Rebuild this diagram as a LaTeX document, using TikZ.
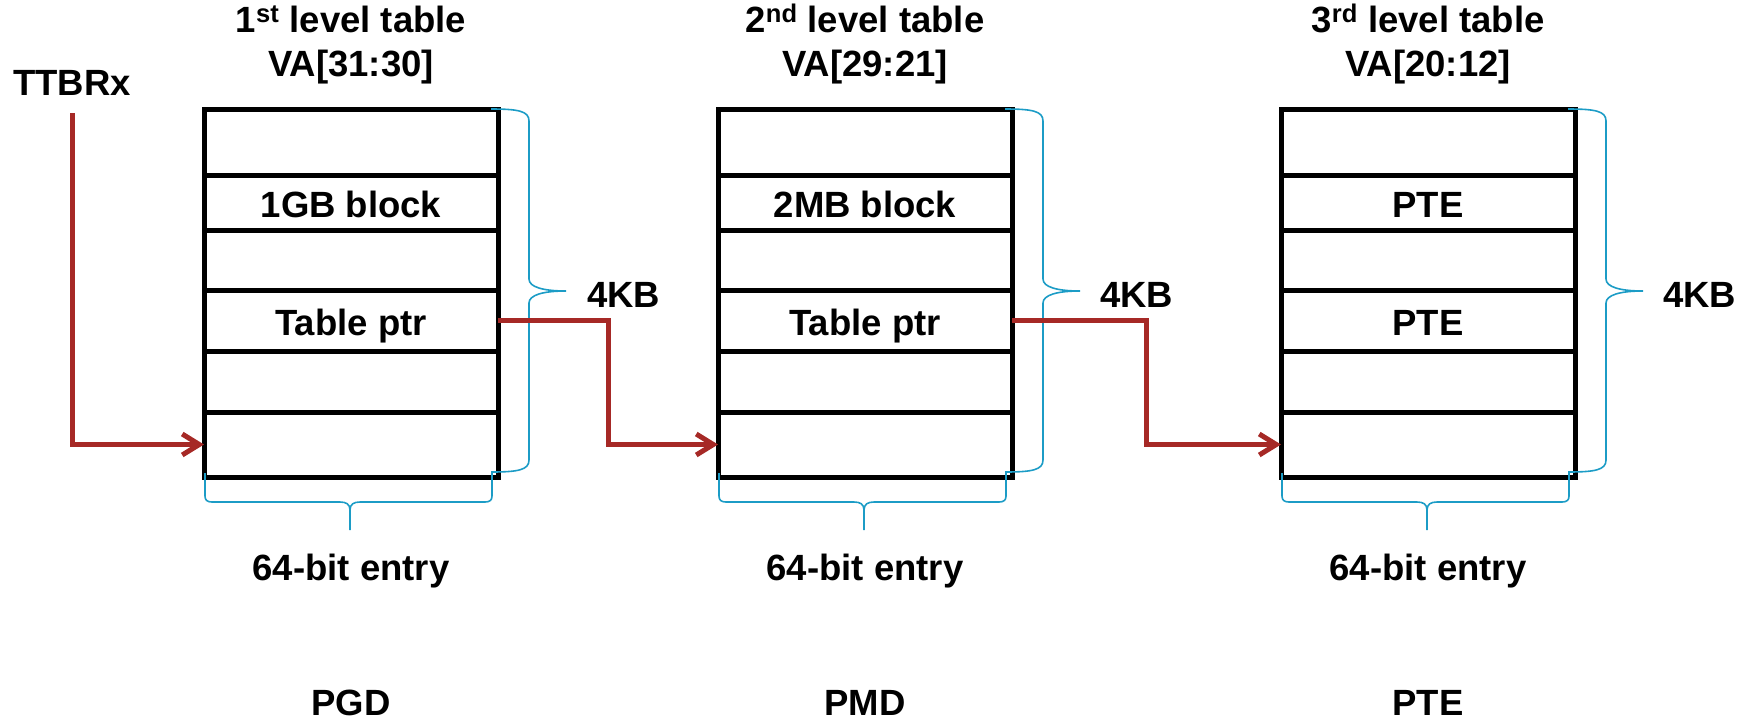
\documentclass[tikz,border=0pt]{standalone}
\usepackage{fontspec}
\setmainfont{Liberation Sans}
\usetikzlibrary{arrows.meta,calc}

\definecolor{ptrred}{RGB}{166,41,38}
\definecolor{bracecyan}{RGB}{28,156,198}

\tikzset{
  lbl/.style={font=\fontsize{36.5}{44}\selectfont\bfseries, inner sep=0pt},
  cell/.style={lbl, draw, line width=5pt, minimum width=294pt, outer sep=0pt, text height=29pt, text depth=0pt},
  ptr/.style={draw=ptrred, line width=5pt, -{Straight Barb[length=17pt,width=21pt]}},
  brc/.style={draw=bracecyan, line width=1.6pt},
  pics/sizebrace/.style={code={
    \draw[brc] (-7,0) .. controls (20,0) and (31,2) .. (31,12) -- (31,170)
      .. controls (31,178) and (45,182) .. (68,182)
      .. controls (45,182) and (31,186) .. (31,194) -- (31,351)
      .. controls (31,361) and (20,363) .. (-7,363);
  }},
  pics/entrybrace/.style={code={
    \draw[brc] (1,-4) -- (1,19) .. controls (1,23) and (3,25) .. (8,25) -- (136,25)
      .. controls (142,25) and (146,27) .. (146,33)
      .. controls (146,27) and (150,25) .. (156,25) -- (281,25)
      .. controls (286,25) and (288,23) .. (288,19) -- (288,-4)
      (146,33) -- (146,53);
  }},
}

\begin{document}
\begin{tikzpicture}[x=1pt,y=-1pt]
\useasboundingbox (0,0) rectangle (1752,721);

\node (ttbr) at (72,95)[lbl,anchor=base]{TTBRx};

\node (lvl1) at (351,32)[lbl,anchor=base]{1\textsuperscript{st} level table};
\node (va1) at (351,76)[lbl,anchor=base]{VA[31:30]};
\node (lvl2) at (865,32)[lbl,anchor=base]{2\textsuperscript{nd} level table};
\node (va2) at (865,76)[lbl,anchor=base]{VA[29:21]};
\node (lvl3) at (1428,32)[lbl,anchor=base]{3\textsuperscript{rd} level table};
\node (va3) at (1428,76)[lbl,anchor=base]{VA[20:12]};

\node (g1) at (351,142)[cell,minimum height=66pt]{};
\node (g2) at (351,202.5)[cell,minimum height=55pt]{1GB block};
\node (g3) at (351,260)[cell,minimum height=60pt]{};
\node (g4) at (351,320.5)[cell,minimum height=61pt]{Table ptr};
\node (g5) at (351,381.5)[cell,minimum height=61pt]{};
\node (g6) at (351,444.5)[cell,minimum height=65pt]{};

\node (m1) at (865,142)[cell,minimum height=66pt]{};
\node (m2) at (865,202.5)[cell,minimum height=55pt]{2MB block};
\node (m3) at (865,260)[cell,minimum height=60pt]{};
\node (m4) at (865,320.5)[cell,minimum height=61pt]{Table ptr};
\node (m5) at (865,381.5)[cell,minimum height=61pt]{};
\node (m6) at (865,444.5)[cell,minimum height=65pt]{};

\node (e1) at (1428,142)[cell,minimum height=66pt]{};
\node (e2) at (1428,202.5)[cell,minimum height=55pt]{PTE};
\node (e3) at (1428,260)[cell,minimum height=60pt]{};
\node (e4) at (1428,320.5)[cell,minimum height=61pt]{PTE};
\node (e5) at (1428,381.5)[cell,minimum height=61pt]{};
\node (e6) at (1428,444.5)[cell,minimum height=65pt]{};

\pic at (g1.north east) {sizebrace};
\pic at (m1.north east) {sizebrace};
\pic at (e1.north east) {sizebrace};
\node (kb1) at (587,307)[lbl,anchor=base west]{4KB};
\node (kb2) at (1100,307)[lbl,anchor=base west]{4KB};
\node (kb3) at (1663,307)[lbl,anchor=base west]{4KB};

\pic at (g6.south west) {entrybrace};
\pic at (m6.south west) {entrybrace};
\pic at (e6.south west) {entrybrace};
\node (ent1) at (351,580)[lbl,anchor=base]{64-bit entry};
\node (ent2) at (865,580)[lbl,anchor=base]{64-bit entry};
\node (ent3) at (1428,580)[lbl,anchor=base]{64-bit entry};

\node (pgd) at (351,715)[lbl,anchor=base]{PGD};
\node (pmd) at (865,715)[lbl,anchor=base]{PMD};
\node (pte) at (1428,715)[lbl,anchor=base]{PTE};

\draw[ptr, shorten <=18pt] (ttbr.south) |- (g6.west);
\draw[ptr] (g4.east) -| ($(g4.east)!.5!(m6.west)$) |- (m6.west);
\draw[ptr] (m4.east) -| ($(m4.east)!.5!(e6.west)$) |- (e6.west);
\end{tikzpicture}
\end{document}
